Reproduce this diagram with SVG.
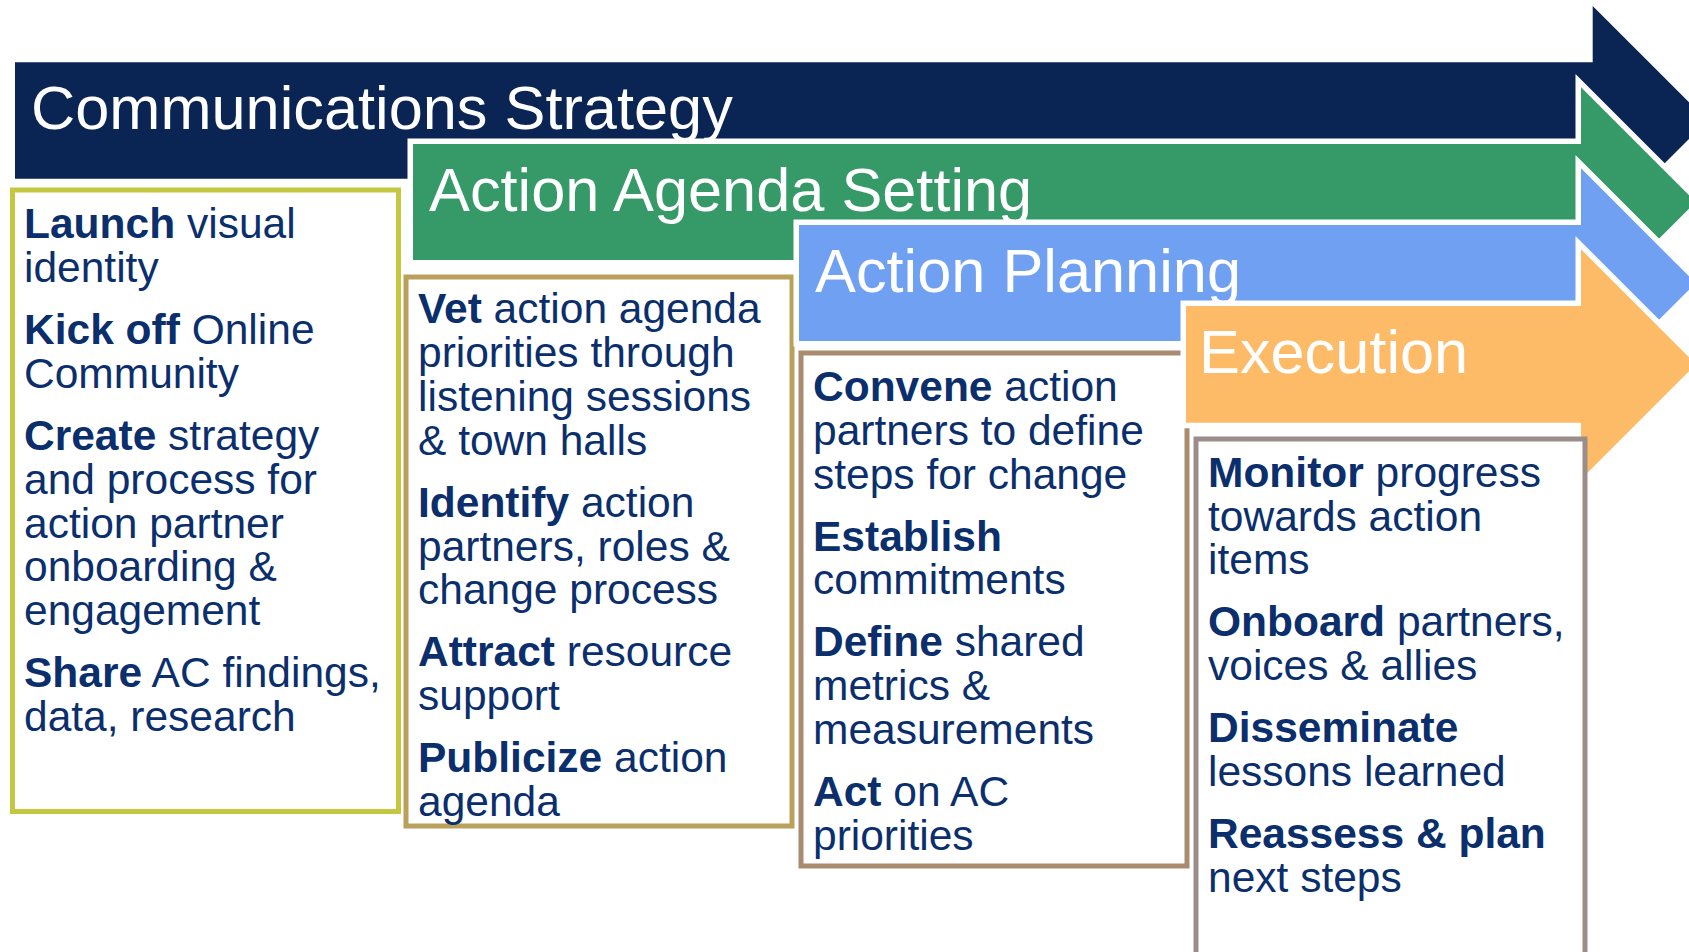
<svg xmlns="http://www.w3.org/2000/svg" width="1689" height="952" viewBox="0 0 1689 952">
  <style>
    .arrow { stroke: #ffffff; stroke-width: 11; stroke-linejoin: miter; stroke-miterlimit: 10; paint-order: stroke; }
    .title { font-family: "Liberation Sans", Arial, sans-serif; font-size: 61.3px; fill: #ffffff; }
    .box { fill: #ffffff; stroke-width: 5; }
    .body { font-family: "Liberation Sans", Arial, sans-serif; font-size: 42.5px; fill: #0b2f6c; }
    .b { font-weight: bold; }
  </style>
  <rect width="1689" height="952" fill="#ffffff"/>

  <!-- Phase 1: Communications Strategy -->
  <g id="comm-arrow">
    <path class="arrow" fill="#0a2453" d="M15,62.3 H1592.7 V6 L1707.3,120.6 L1592.7,235.2 V178.8 H15 Z"/>
    <text class="title" x="31" y="129.3">Communications Strategy</text>
  </g>
  <g id="comm-box">
    <rect class="box" stroke="#c4c840" x="12.5" y="190" width="386" height="621.5"/>
    <text class="body">
      <tspan x="24" y="238.3"><tspan class="b">Launch</tspan> visual</tspan>
      <tspan x="24" y="282.1">identity</tspan>
      <tspan x="24" y="344.1"><tspan class="b">Kick off</tspan> Online</tspan>
      <tspan x="24" y="387.9">Community</tspan>
      <tspan x="24" y="449.9"><tspan class="b">Create</tspan> strategy</tspan>
      <tspan x="24" y="493.7">and process for</tspan>
      <tspan x="24" y="537.5">action partner</tspan>
      <tspan x="24" y="581.3">onboarding &amp;</tspan>
      <tspan x="24" y="625.1">engagement</tspan>
      <tspan x="24" y="687.1"><tspan class="b">Share</tspan> AC findings,</tspan>
      <tspan x="24" y="730.9">data, research</tspan>
    </text>
  </g>

  <!-- Phase 2: Action Agenda Setting -->
  <g id="agenda-arrow">
    <path class="arrow" fill="#369968" d="M413,144 H1581 V87.3 L1695.7,202 L1581,316.7 V260 H413 Z"/>
    <text class="title" x="429" y="210.7">Action Agenda Setting</text>
  </g>
  <g id="agenda-box">
    <rect class="box" stroke="#b9a15b" x="406" y="277" width="386" height="549"/>
    <text class="body">
      <tspan x="418" y="323.3"><tspan class="b">Vet</tspan> action agenda</tspan>
      <tspan x="418" y="367.1">priorities through</tspan>
      <tspan x="418" y="410.9">listening sessions</tspan>
      <tspan x="418" y="454.7">&amp; town halls</tspan>
      <tspan x="418" y="516.7"><tspan class="b">Identify</tspan> action</tspan>
      <tspan x="418" y="560.5">partners, roles &amp;</tspan>
      <tspan x="418" y="604.3">change process</tspan>
      <tspan x="418" y="666.3"><tspan class="b">Attract</tspan> resource</tspan>
      <tspan x="418" y="710.1">support</tspan>
      <tspan x="418" y="772.1"><tspan class="b">Publicize</tspan> action</tspan>
      <tspan x="418" y="815.9">agenda</tspan>
    </text>
  </g>

  <!-- Phase 3: Action Planning -->
  <g id="planning-arrow">
    <path class="arrow" fill="#6fa0f1" d="M799,225 H1581 V168.3 L1695.7,283 L1581,397.7 V341 H799 Z"/>
    <text class="title" x="815" y="291.7">Action Planning</text>
  </g>
  <g id="planning-box">
    <rect class="box" stroke="#a98b70" x="801" y="353" width="386" height="513"/>
    <text class="body">
      <tspan x="813" y="401"><tspan class="b">Convene</tspan> action</tspan>
      <tspan x="813" y="444.8">partners to define</tspan>
      <tspan x="813" y="488.6">steps for change</tspan>
      <tspan x="813" y="550.6" class="b">Establish</tspan>
      <tspan x="813" y="594.4">commitments</tspan>
      <tspan x="813" y="656.4"><tspan class="b">Define</tspan> shared</tspan>
      <tspan x="813" y="700.2">metrics &amp;</tspan>
      <tspan x="813" y="744">measurements</tspan>
      <tspan x="813" y="806"><tspan class="b">Act</tspan> on AC</tspan>
      <tspan x="813" y="849.8">priorities</tspan>
    </text>
  </g>

  <!-- Phase 4: Execution -->
  <g id="execution-arrow">
    <path class="arrow" fill="#fdbb68" d="M1186,306 H1581 V249.3 L1696,364.3 L1581,479.3 V422.7 H1186 Z"/>
    <text class="title" x="1199" y="373.3">Execution</text>
  </g>
  <g id="execution-box">
    <rect class="box" stroke="#9b8d89" x="1196" y="439" width="389" height="540"/>
    <text class="body">
      <tspan x="1208" y="486.7"><tspan class="b">Monitor</tspan> progress</tspan>
      <tspan x="1208" y="530.5">towards action</tspan>
      <tspan x="1208" y="574.3">items</tspan>
      <tspan x="1208" y="636.3"><tspan class="b">Onboard</tspan> partners,</tspan>
      <tspan x="1208" y="680.1">voices &amp; allies</tspan>
      <tspan x="1208" y="742.1" class="b">Disseminate</tspan>
      <tspan x="1208" y="785.9">lessons learned</tspan>
      <tspan x="1208" y="847.9" class="b">Reassess &amp; plan</tspan>
      <tspan x="1208" y="891.7">next steps</tspan>
    </text>
  </g>

  <!-- no connectors: the phases are chained arrows -->
  <g id="connectors"/>
</svg>
